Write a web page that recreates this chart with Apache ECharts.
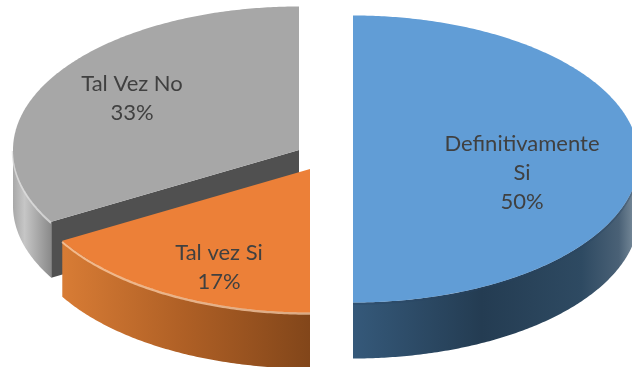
<!DOCTYPE html>
<html>
<head>
<meta charset="utf-8">
<style>html,body{margin:0;padding:0;background:#fff}#c{width:632px;height:367px}</style>
<script src="https://cdn.jsdelivr.net/npm/echarts@6/dist/echarts.min.js"></script>
</head>
<body>
<div id="c"></div>
<script>
// Data
const categories = ['Definitivamente\nSi', 'Tal vez Si', 'Tal Vez No'];
const shares = [50, 16.67, 33.33];

// Layout of the tilted, exploded pie
const RX = 286, RY = 143.5, DEPTH = 56;
const centers = [[353, 159], [310, 169], [299, 150]];
const labelAt = [[522, 173], [219, 267], [132, 98]];
const drawOrder = [2, 1, 0]; // back to front
// Style
const topColors = ['#619dd6', '#ec8038', '#a7a7a7'];
const sideStops = [
  [[0, '#35597a'], [0.45, '#243c52'], [0.8, '#2e4a62'], [0.93, '#4a6176'], [1, '#8496a4']],
  [[0, '#d87c35'], [0.5, '#ae5f25'], [1, '#82461a']],
  [[0, '#a8a8a8'], [0.3, '#c6c6c6'], [1, '#8a8a8a']]
];
const edgeGlow = ['rgba(40,70,100,0.35)', 'rgba(255,214,180,0.7)', 'rgba(222,222,222,0.8)'];

const total = shares.reduce((a, b) => a + b, 0);
const starts = [];
shares.reduce((acc, v, i) => { starts[i] = acc; return acc + v; }, 0);
const angle = v => v / total * Math.PI * 2;

function pt(c, t, dy) {
  return [c[0] + RX * Math.sin(t), c[1] - RY * Math.cos(t) + (dy || 0)];
}
function arc(c, a, b, dy) {
  const out = [], n = Math.max(2, Math.ceil(Math.abs(b - a) / 0.01));
  for (let i = 0; i <= n; i++) out.push(pt(c, a + (b - a) * i / n, dy));
  return out;
}

function renderItem(params) {
  const i = drawOrder[params.dataIndex], c = centers[i];
  const a = angle(starts[i]), b = a + angle(shares[i]);
  const children = [];
  // Outer rim, only on the front half of the ellipse
  const fa = Math.max(a, Math.PI / 2), fb = Math.min(b, Math.PI * 1.5);
  if (fb > fa) {
    const upper = arc(c, fa, fb), lower = arc(c, fa, fb, DEPTH).reverse();
    children.push({
      type: 'polygon',
      shape: { points: upper.concat(lower) },
      style: {
        fill: {
          type: 'linear', x: 0, y: 0, x2: 1, y2: 0,
          colorStops: sideStops[i].map(s => ({ offset: s[0], color: s[1] }))
        }
      }
    });
    children.push({
      type: 'polyline',
      shape: { points: arc(c, fa, fb, 1) },
      style: { fill: null, stroke: edgeGlow[i], lineWidth: 2.5 }
    });
  }
  // Cut wall seen where the slice's opening radius faces the viewer
  if (a > Math.PI && a < Math.PI * 2) {
    const tip = pt(c, a);
    children.push({
      type: 'polygon',
      shape: { points: [c, tip, [tip[0], tip[1] + DEPTH], [c[0], c[1] + DEPTH]] },
      style: { fill: '#505050' }
    });
  }
  // Top face
  children.push({
    type: 'polygon',
    shape: { points: [c].concat(arc(c, a, b)) },
    style: { fill: topColors[i] }
  });
  // Label
  children.push({
    type: 'text',
    x: labelAt[i][0], y: labelAt[i][1],
    style: {
      text: categories[i] + '\n' + Math.round(shares[i] / total * 100) + '%',
      fill: '#404040',
      font: '22px Lato, "Open Sans", sans-serif',
      lineHeight: 29,
      align: 'center',
      verticalAlign: 'middle'
    }
  });
  return { type: 'group', children };
}

const chart = echarts.init(document.getElementById('c'), null, { renderer: 'canvas' });
chart.setOption({
  animation: false,
  backgroundColor: '#ffffff',
  series: [{
    type: 'custom',
    coordinateSystem: 'none',
    renderItem,
    data: drawOrder.map(i => ({ value: shares[i], name: categories[i] })),
    silent: true
  }]
});
</script>
</body>
</html>
